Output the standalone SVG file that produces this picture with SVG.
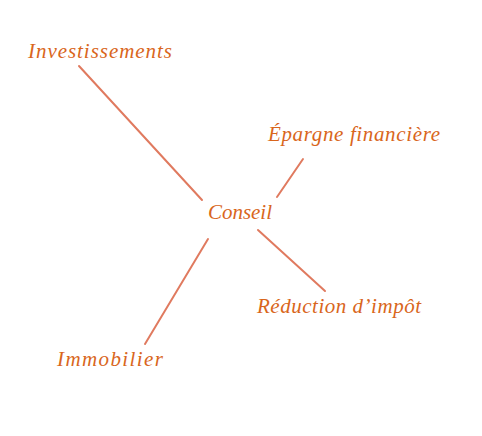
<svg xmlns="http://www.w3.org/2000/svg" width="482" height="436" viewBox="0 0 482 436">
<style>
.lbl{font-family:"Liberation Serif","DejaVu Serif",serif;font-style:italic;font-size:21px;fill:#d9661c;text-anchor:middle}
.edge{stroke:#e07a5f;stroke-width:2;fill:none;stroke-linecap:round}
</style>
<rect width="482" height="436" fill="#ffffff"/>
<g id="connectors">
<line class="edge" x1="79" y1="66" x2="202" y2="200"/>
<line class="edge" x1="303" y1="159" x2="277" y2="197"/>
<line class="edge" x1="258" y1="230" x2="325" y2="291"/>
<line class="edge" x1="208" y1="239" x2="145" y2="344"/>
</g>
<g id="conseil"><text class="lbl" x="240" y="219" textLength="64" lengthAdjust="spacing">Conseil</text></g>
<g id="investissements"><text class="lbl" x="100" y="58" textLength="144" lengthAdjust="spacing">Investissements</text></g>
<g id="epargne"><text class="lbl" x="354" y="141" textLength="172" lengthAdjust="spacing">Épargne financière</text></g>
<g id="reduction"><text class="lbl" x="339" y="313" textLength="164" lengthAdjust="spacing">Réduction d’impôt</text></g>
<g id="immobilier"><text class="lbl" x="110" y="366" textLength="106" lengthAdjust="spacing">Immobilier</text></g>
</svg>
